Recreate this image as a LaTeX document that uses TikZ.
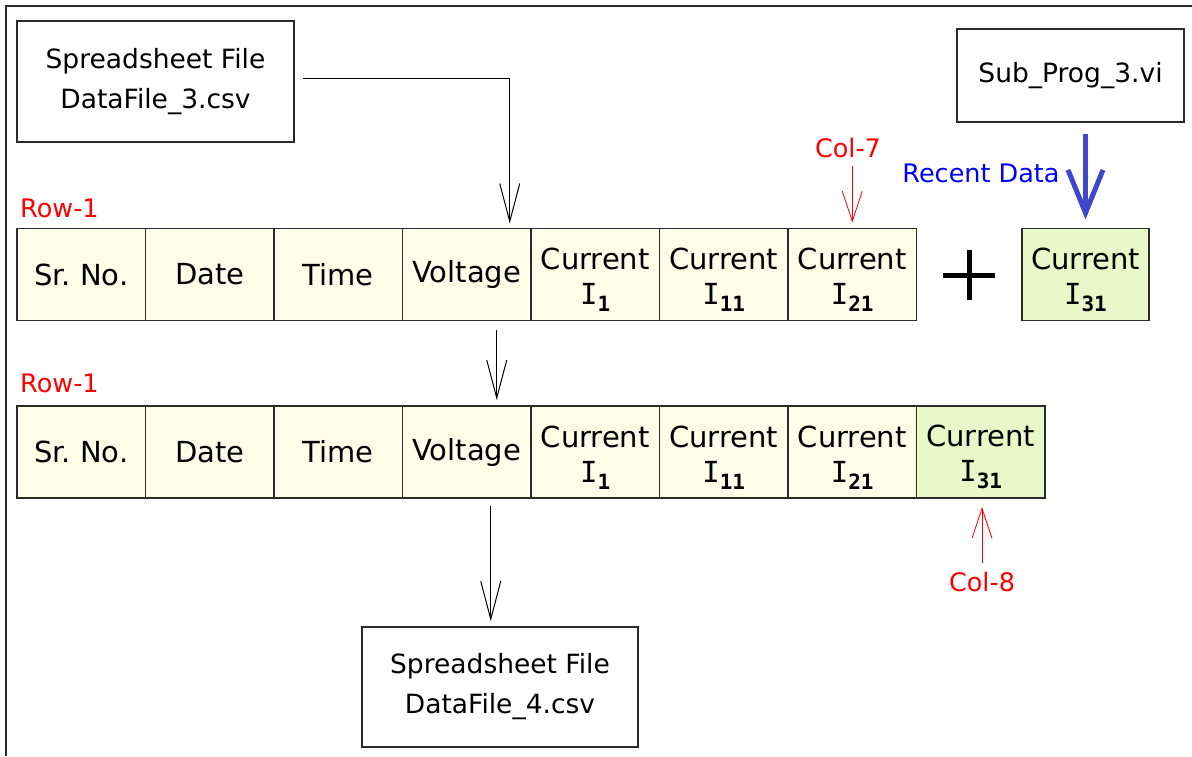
\documentclass[tikz,border=0pt]{standalone}
\usepackage{fontspec}
\setmainfont{DejaVu Sans}
\newfontfamily\monofont{DejaVu Sans Mono}
\usetikzlibrary{arrows.meta, positioning}
\definecolor{cellbg}{HTML}{FDFDE8}
\definecolor{newbg}{HTML}{E8F8C8}
\definecolor{recent}{HTML}{3F48CC}
\definecolor{edge}{HTML}{2B2B2B}

\newcommand{\boxfont}{\fontsize{26.5}{40}\selectfont}
\newcommand{\cellfont}{\fontsize{29}{35}\selectfont}
\newcommand{\notefont}{\fontsize{25.5}{30}\selectfont}
% current column head: "Current" over I with a bold index
\newcommand{\curr}[1]{\rule{0pt}{32pt}Current\\{\monofont I}\raisebox{-7pt}{\fontsize{21}{21}\selectfont\monofont\bfseries #1}}

\begin{document}
\begin{tikzpicture}[x=1pt, y=-1pt,
    filebox/.style={rectangle, draw=edge, line width=1.6pt, align=center, font=\boxfont},
    cell/.style={rectangle, draw=edge, line width=1.8pt, fill=cellbg, minimum width=128.5pt,
                 minimum height=92pt, inner sep=0pt, outer sep=0pt, align=center, font=\cellfont},
    newcell/.style={cell, fill=newbg},
    note/.style={font=\notefont, text=red, inner sep=0pt},
    arr/.style={-{Straight Barb[length=38pt,width=20pt]}, line width=1pt, black},
    redarr/.style={-{Straight Barb[length=30pt,width=20pt]}, line width=0.8pt, red},
    bigarr/.style={-{Straight Barb[length=43pt,width=35pt]}, line width=5pt, recent}
  ]
  \useasboundingbox (0,0) rectangle (1192,756);
  \draw[edge, line width=2pt] (6,756) -- (6,6) -- (1192,6);

  % source files
  \node[filebox, minimum width=277pt, minimum height=121pt] (f3) at (155.5,81.5)
    {Spreadsheet File\\DataFile\_3.csv};
  \node[filebox, minimum width=227pt, minimum height=93pt] (sub) at (1070.5,75.5)
    {Sub\_Prog\_3.vi};

  % first row
  \node[note, anchor=west] (row1) at (20,208) {Row-1};
  \node[cell, anchor=north west] (sr1) at (17,228.5) {Sr.\ No.};
  \node[cell, right=0pt of sr1] (dt1) {Date};
  \node[cell, right=0pt of dt1] (tm1) {Time};
  \node[cell, right=0pt of tm1] (vt1) {Voltage};
  \node[cell, right=0pt of vt1] (ia1) {\curr{1}};
  \node[cell, right=0pt of ia1] (ib1) {\curr{11}};
  \node[cell, right=0pt of ib1] (ic1) {\curr{21}};

  \draw[line width=5pt] (943,275) -- (995,275) (969,250) -- (969,300);
  \node[newcell, minimum width=127pt] (new1) at (1085.5,274.5) {\curr{31}};

  \node[note] (col7) at (848,148) {Col-7};
  \node[font=\notefont, text=blue, inner sep=0pt] (recent) at (981,173) {Recent Data};

  % second row
  \node[note, anchor=west] (row2) at (20,383) {Row-1};
  \node[cell, anchor=north west] (sr2) at (17,406) {Sr.\ No.};
  \node[cell, right=0pt of sr2] (dt2) {Date};
  \node[cell, right=0pt of dt2] (tm2) {Time};
  \node[cell, right=0pt of tm2] (vt2) {Voltage};
  \node[cell, right=0pt of vt2] (ia2) {\curr{1}};
  \node[cell, right=0pt of ia2] (ib2) {\curr{11}};
  \node[cell, right=0pt of ib2] (ic2) {\curr{21}};
  \node[newcell, right=0pt of ic2] (id2) {\curr{31}};

  \node[note] (col8) at (982,582) {Col-8};

  % output file
  \node[filebox, minimum width=276pt, minimum height=120pt] (f4) at (500,687)
    {Spreadsheet File\\DataFile\_4.csv};

  % connectors
  \draw[arr, shorten <=8pt, shorten >=5pt] ([yshift=3pt]f3.east) -| ([xshift=43pt]vt1.north);
  \draw[redarr, shorten <=8pt, shorten >=6pt] (col7.south -| ic1.north) -- (ic1.north);
  \draw[bigarr, shorten <=11pt, shorten >=9pt] (sub.south -| new1.north) -- (new1.north);
  \draw[arr, shorten <=9pt, shorten >=6pt] ([xshift=30pt]vt1.south) -- ([xshift=30pt]vt2.north);
  \coordinate (out) at ([xshift=24pt]vt2.south);
  \draw[arr, shorten <=8pt, shorten >=5pt] (out) -- (f4.north -| out);
  \draw[redarr, shorten <=9pt, shorten >=9pt] (col8.north) -- (col8.north |- id2.south);
\end{tikzpicture}
\end{document}
